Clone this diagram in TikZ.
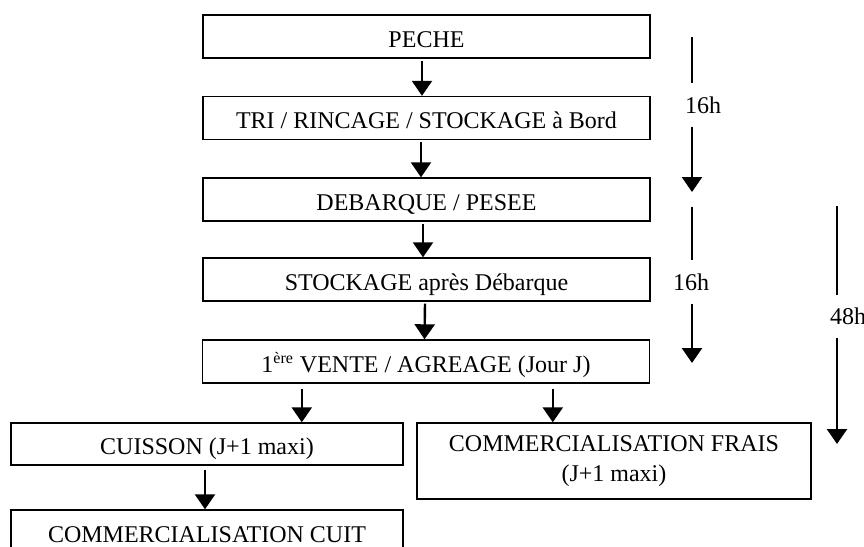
\documentclass[tikz,border=0pt]{standalone}
\usepackage{fontspec}
\setmainfont{Liberation Serif}
\usetikzlibrary{arrows.meta}
\tikzset{
  base box/.style={draw,line width=0.7pt,inner sep=0pt,minimum width=223.5pt,minimum height=21.5pt,font=\fontsize{12}{15}\selectfont},
  stage box/.style={base box,text height=10.9pt,text depth=0pt},
  flow arrow/.style={-{Triangle[width=10pt,length=7.5pt]},line width=1.2pt},
  time line/.style={line width=1.2pt},
  time arrow/.style={time line,-{Triangle[width=10pt,length=7.5pt]}},
  time label/.style={inner xsep=0pt,inner ysep=6.5pt,font=\fontsize{12}{15}\selectfont},
}

\begin{document}
\begin{tikzpicture}[x=0.5pt,y=-0.5pt]
  \useasboundingbox (0,0) rectangle (864,547);
  \node[stage box] (peche) at (426.5,36.5) {PECHE};
  \node[stage box] (tri) at (426.5,118) {TRI / RINCAGE / STOCKAGE à Bord};
  \node[stage box] (debarque) at (426.5,199.5) {DEBARQUE / PESEE};
  \node[stage box] (stockage) at (426.5,279.5) {STOCKAGE après Débarque};
  \node[stage box] (vente) at (426,361.5) {1\textsuperscript{ère} VENTE / AGREAGE (Jour J)};
  \node[stage box,minimum width=196pt,minimum height=21pt] (cuisson) at (207,444) {CUISSON (J+1 maxi)};
  \node[base box,minimum width=197pt,minimum height=38pt,align=center] (frais) at (614,461) {COMMERCIALISATION FRAIS\\(J+1 maxi)};
  \node[stage box,minimum width=196pt,minimum height=22pt] (cuit) at (207,532) {COMMERCIALISATION CUIT};
  \draw[flow arrow] ([xshift=-2.25pt,yshift=-1pt]peche.south) -- ([xshift=-2.25pt]tri.north);
  \draw[flow arrow] ([xshift=-2.75pt,yshift=-1pt]tri.south) -- ([xshift=-2.75pt]debarque.north);
  \draw[flow arrow] ([xshift=-1.75pt,yshift=-1pt]debarque.south) -- ([xshift=-1.75pt]stockage.north);
  \draw[flow arrow] ([xshift=-0.75pt,yshift=-1pt]stockage.south) -- ([xshift=-0.75pt]vente.north);
  \draw[flow arrow] ([xshift=50pt,yshift=-2.5pt]vente.south west) coordinate (v1) -- (v1 |- cuisson.north);
  \draw[flow arrow] ([xshift=175.5pt,yshift=-2.5pt]vente.south west) coordinate (v2) -- (v2 |- frais.north);
  \draw[flow arrow] ([xshift=-1pt,yshift=-2pt]cuisson.south) -- ([xshift=-1pt]cuit.north);
  \coordinate (t1) at (692,37);
  \coordinate (t1end) at (692,192);
  \node[time label] (h1) at (703,105) {16h};
  \draw[time line] (t1) -- (t1 |- h1.north);
  \draw[time arrow] (t1 |- h1.south) -- (t1end);
  \coordinate (t2) at (692,207);
  \coordinate (t2end) at (692,363);
  \node[time label] (h2) at (691,282) {16h};
  \draw[time line] (t2) -- (t2 |- h2.north);
  \draw[time arrow] (t2 |- h2.south) -- (t2end);
  \coordinate (t3) at (837,206);
  \coordinate (t3end) at (837,444);
  \node[time label] (h3) at (848,316.5) {48h};
  \draw[time line] (t3) -- (t3 |- h3.north);
  \draw[time arrow] (t3 |- h3.south) -- (t3end);
\end{tikzpicture}
\end{document}
